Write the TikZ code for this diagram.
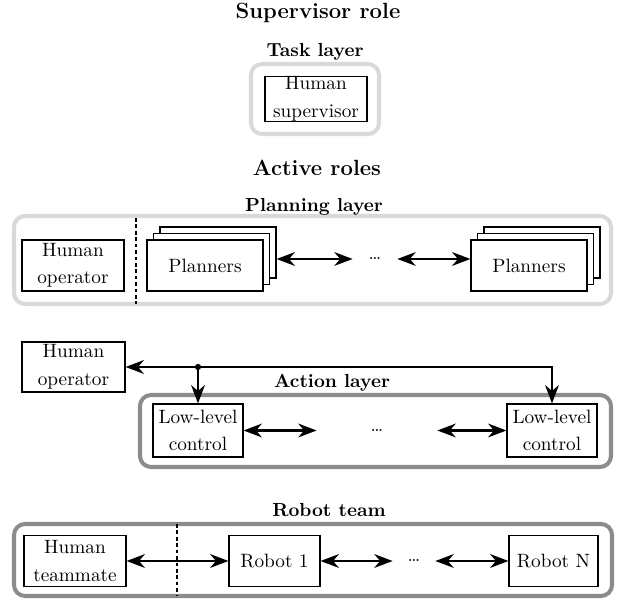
\documentclass[tikz,border=0pt]{standalone}
\usetikzlibrary{arrows.meta,calc}
\begin{document}
\begin{tikzpicture}[x=0.545pt,y=-0.545pt,
  box/.style={draw,line width=0.6pt,fill=white,align=center,inner sep=0pt,
    font=\fontsize{10.5}{15}\selectfont},
  layerlight/.style={draw=black!15,line width=2.2pt,rounded corners=6pt},
  layerdark/.style={draw=black!45,line width=2.2pt,rounded corners=6pt},
  bigtitle/.style={font=\large\bfseries,anchor=base,inner sep=0pt},
  ltitle/.style={font=\fontsize{10.3}{12}\selectfont\bfseries,anchor=base,inner sep=0pt},
  tip/.tip={Stealth[length=10pt,width=7.5pt,inset=3.2pt]},
  conn/.style={line width=1.2pt,tip-tip},
  one/.style={line width=1.2pt,-tip},
  sepline/.style={line width=0.55pt,dash pattern=on 2pt off 1.5pt},
  dotsn/.style={inner sep=0pt,minimum height=2pt,font=\fontsize{10.3}{12}\selectfont}
]
\useasboundingbox (0,0) rectangle (620,599);

% layer frames
\draw[layerlight] (251,64) rectangle (379,134);
\draw[layerlight] (14,216) rectangle (611,304);
\draw[layerdark] (140,395) rectangle (611,467);
\draw[layerdark] (14,524) rectangle (612,596);

% titles
\node[bigtitle] (tsup) at (318,19) {Supervisor role};
\node[ltitle] (ttask) at (315,57) {Task layer};
\node[bigtitle] (tact) at (317,176) {Active roles};
\node[ltitle] (tplan) at (314,212) {Planning layer};
\node[ltitle] (taction) at (332,388) {Action layer};
\node[ltitle] (trob) at (329,517) {Robot team};

% task layer
\node[box,minimum width=102*0.545pt,minimum height=44*0.545pt] (sup) at (316,99) {Human\\supervisor};

% planning layer
\node[box,minimum width=102*0.545pt,minimum height=51*0.545pt] (hop) at (73,265.5) {Human\\operator};
\coordinate (d1a) at (136,218);
\coordinate (d1b) at (136,304);
\draw[sepline] (d1a) -- (d1b);

\node[box,minimum width=116*0.545pt,minimum height=51*0.545pt] (pl1b) at (218,252.5) {};
\node[box,minimum width=116*0.545pt,minimum height=51*0.545pt] (pl1m) at (211.5,259) {};
\node[box,minimum width=116*0.545pt,minimum height=51*0.545pt] (pl1f) at (205,265.5) {Planners};

\node[box,minimum width=116*0.545pt,minimum height=51*0.545pt] (pl2b) at (542,252.5) {};
\node[box,minimum width=116*0.545pt,minimum height=51*0.545pt] (pl2m) at (535.5,259) {};
\node[box,minimum width=116*0.545pt,minimum height=51*0.545pt] (pl2f) at (529,265.5) {Planners};

\node[dotsn,minimum width=44*0.545pt] (pdots) at (375,259) {\dots};
\draw[conn] (pl1b.east |- pl1m.center) -- (pdots);
\draw[conn] (pdots) -- (pl2f.west |- pdots.center);

% action layer
\node[box,minimum width=103*0.545pt,minimum height=50*0.545pt] (hoa) at (73.5,367) {Human\\operator};
\node[box,minimum width=90*0.545pt,minimum height=53*0.545pt] (llc1) at (198,430.5) {Low-level\\control};
\node[box,minimum width=90*0.545pt,minimum height=53*0.545pt] (llc2) at (552,430.5) {Low-level\\control};
\node[dotsn,minimum width=120*0.545pt] (adots) at (377,430.5) {\dots};
\coordinate (jn) at (llc1.north |- hoa.east);
\draw[one] (jn) -- (hoa.east);
\draw[one] (jn) -- (llc1.north);
\draw[one] (jn) -| (llc2.north);
\fill (jn) circle[radius=1.7pt];
\draw[conn] (llc1) -- (adots);
\draw[conn] (adots) -- (llc2);

% robot team
\node[box,minimum width=102*0.545pt,minimum height=51*0.545pt] (ht) at (75,561) {Human\\teammate};
\node[box,minimum width=91*0.545pt,minimum height=51*0.545pt] (r1) at (274.5,561) {Robot 1};
\node[box,minimum width=89*0.545pt,minimum height=51*0.545pt] (rN) at (553.5,561) {Robot N};
\node[dotsn,minimum width=42*0.545pt] (rdots) at (414,561) {\dots};
\coordinate (d2a) at (177,524);
\coordinate (d2b) at (177,596);
\draw[sepline] (d2a) -- (d2b);
\draw[conn] (ht) -- (r1);
\draw[conn] (r1) -- (rdots);
\draw[conn] (rdots) -- (rN);
\end{tikzpicture}
\end{document}
